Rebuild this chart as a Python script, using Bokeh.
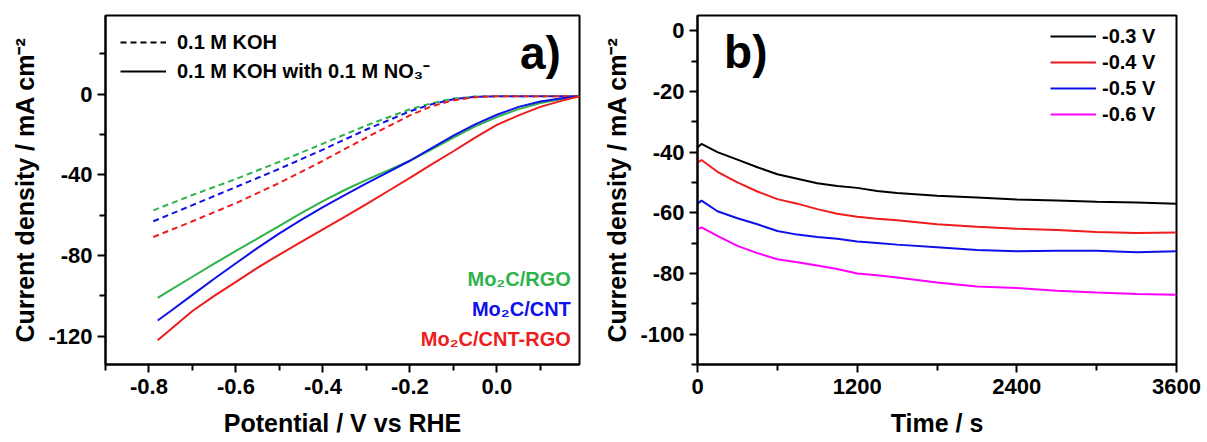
from bokeh.plotting import figure
from bokeh.models import Range1d, FixedTicker, PrintfTickFormatter, Legend, LegendItem, Label
from bokeh.layouts import row
from bokeh.embed import file_html
from bokeh.resources import INLINE

FONT = "Liberation Sans"
NAN = float("nan")

# ---------------- Panel a data (LSV) ----------------
potential_koh = [-0.79, -0.7, -0.6, -0.5, -0.4, -0.3, -0.2, -0.15, -0.1, -0.05, 0.0, 0.1, 0.19]
koh_rgo = [-57.6, -50.0, -42.0, -33.5, -24.5, -15.5, -7.5, -4.5, -2.2, -1.2, -1.0, -1.0, -1.0]
koh_cnt = [-63.0, -55.0, -46.0, -37.0, -27.5, -17.5, -8.5, -5.0, -2.5, -1.3, -1.0, -1.0, -1.0]
koh_cnt_rgo = [-70.8, -63.0, -54.0, -44.0, -33.0, -21.5, -10.5, -6.0, -3.0, -1.5, -1.0, -1.0, -1.0]

potential_no3 = [-0.78, -0.75, -0.7, -0.65, -0.6, -0.55, -0.5, -0.45, -0.4, -0.35, -0.3,
                 -0.25, -0.2, -0.15, -0.1, -0.05, 0.0, 0.05, 0.1, 0.15, 0.19]
no3_rgo = [-101.0, -97.0, -90.5, -84.0, -77.7, -71.5, -65.3, -59.0, -53.0, -47.5, -42.5,
           -37.8, -33.0, -27.3, -21.5, -16.0, -11.4, -7.4, -4.4, -2.4, -1.0]
no3_cnt = [-112.2, -107.5, -99.5, -91.5, -83.8, -76.2, -69.0, -62.3, -56.0, -50.0, -44.2,
           -38.6, -33.0, -26.7, -20.6, -15.0, -10.2, -6.3, -3.6, -2.0, -1.0]
no3_cnt_rgo = [-122.0, -116.5, -107.5, -100.0, -93.0, -86.0, -79.5, -73.2, -67.0, -60.8, -54.5,
               -48.0, -41.5, -34.8, -28.3, -21.5, -15.2, -10.5, -6.3, -3.2, -1.0]

catalysts = ["Mo\u2082C/RGO", "Mo\u2082C/CNT", "Mo\u2082C/CNT-RGO"]
electrolytes = ["0.1 M KOH", "0.1 M KOH with 0.1 M NO\u2083\u207b"]

# ---------------- Panel b data (chronoamperometry) ----------------
time_s = [0, 30, 150, 300, 450, 600, 750, 900, 1050, 1200, 1350, 1500, 1800, 2100, 2400,
          2700, 3000, 3300, 3600]
j_03 = [-38.5, -37.3, -40.0, -42.5, -45.0, -47.3, -48.8, -50.3, -51.2, -51.8, -52.8, -53.5,
        -54.4, -55.0, -55.6, -56.0, -56.4, -56.6, -57.0]
j_04 = [-43.5, -42.6, -46.5, -50.0, -53.0, -55.5, -57.0, -58.8, -60.3, -61.3, -62.0, -62.5,
        -63.8, -64.6, -65.3, -65.7, -66.3, -66.7, -66.5]
j_05 = [-57.0, -56.0, -59.5, -61.8, -63.8, -66.0, -67.2, -68.0, -68.6, -69.5, -70.0, -70.5,
        -71.4, -72.3, -72.7, -72.5, -72.5, -73.0, -72.7]
j_06 = [-65.5, -64.8, -67.6, -70.9, -73.3, -75.3, -76.3, -77.4, -78.5, -80.0, -80.6, -81.3,
        -83.0, -84.3, -84.8, -85.7, -86.3, -86.8, -87.0]
potentials = ["-0.3 V", "-0.4 V", "-0.5 V", "-0.6 V"]

GREEN = "#2eb34a"
BLUE = "#1010e8"
RED = "#ee1c1c"
MAGENTA = "#ff00ff"


def style(p):
    p.xgrid.visible = False
    p.ygrid.visible = False
    p.outline_line_color = "black"
    p.outline_line_width = 2
    p.background_fill_color = "white"
    p.border_fill_color = "white"
    for ax in (p.xaxis[0], p.yaxis[0]):
        ax.axis_line_width = 2
        ax.major_tick_line_width = 2
        ax.minor_tick_line_width = 2
        ax.major_tick_in = 0
        ax.major_tick_out = 8
        ax.minor_tick_in = 0
        ax.minor_tick_out = 6
        ax.major_label_text_font = FONT
        ax.major_label_text_font_style = "bold"
        ax.major_label_text_font_size = "22px"
        ax.major_label_text_color = "black"
        ax.axis_label_text_font = FONT
        ax.axis_label_text_font_style = "bold"
        ax.axis_label_text_font_size = "25px"
        ax.axis_label_text_color = "black"
    p.xaxis.major_label_standoff = 6
    p.xaxis.axis_label_standoff = 12
    p.yaxis.major_label_standoff = 5
    p.yaxis.axis_label_standoff = 6
    p.yaxis.formatter = PrintfTickFormatter(format="%d")


def legend(items, **kw):
    return Legend(items=items, margin=0, border_line_alpha=0, background_fill_alpha=0,
                  label_text_font=FONT, label_text_font_style="bold",
                  label_text_font_size="20px", label_text_color="black", **kw)


# ---------------- Panel a ----------------
pa = figure(width=592, height=442, output_backend="svg", toolbar_location=None,
            x_range=Range1d(-0.9, 0.19), y_range=Range1d(-134, 39),
            min_border_left=105, min_border_right=13, min_border_top=15, min_border_bottom=78)
style(pa)
pa.xaxis.axis_label = "Potential / V vs RHE"
pa.yaxis.axis_label = "Current density / mA cm\u207b\u00b2"
pa.xaxis.ticker = FixedTicker(ticks=[-0.8, -0.6, -0.4, -0.2, 0.0],
                              minor_ticks=[-0.9, -0.7, -0.5, -0.3, -0.1, 0.1])
pa.xaxis.formatter = PrintfTickFormatter(format="%.1f")
pa.yaxis.ticker = FixedTicker(ticks=[-120, -80, -40, 0], minor_ticks=[-100, -60, -20, 20])

DASH = "6 4"
pa.line(potential_koh, koh_rgo, line_color=GREEN, line_width=2, line_dash=DASH)
pa.line(potential_koh, koh_cnt, line_color=BLUE, line_width=2, line_dash=DASH)
pa.line(potential_koh, koh_cnt_rgo, line_color=RED, line_width=2, line_dash=DASH)
pa.line(potential_no3, no3_rgo, line_color=GREEN, line_width=2)
pa.line(potential_no3, no3_cnt, line_color=BLUE, line_width=2)
pa.line(potential_no3, no3_cnt_rgo, line_color=RED, line_width=2)

key_dash = pa.line([NAN], [NAN], line_color="black", line_width=2, line_dash=DASH)
key_solid = pa.line([NAN], [NAN], line_color="black", line_width=2)
pa.add_layout(legend([LegendItem(label=electrolytes[0], renderers=[key_dash]),
                      LegendItem(label=electrolytes[1], renderers=[key_solid])],
                     location="top_left", padding=15, spacing=3,
                     glyph_width=46, glyph_height=24, label_height=24, label_standoff=11))

pa.add_layout(Label(x=0.147, y=20.4, text="a)", text_align="right", text_baseline="middle",
                    text_font=FONT, text_font_style="bold", text_font_size="46px",
                    text_color="black"))
for name, yy, col in zip(catalysts, [-91.4, -106.7, -121.6], [GREEN, BLUE, RED]):
    pa.add_layout(Label(x=0.17, y=yy, text=name, text_align="right", text_baseline="middle",
                        text_font=FONT, text_font_style="bold", text_font_size="20px",
                        text_color=col))

# ---------------- Panel b ----------------
pb = figure(width=615, height=442, output_backend="svg", toolbar_location=None,
            x_range=Range1d(0, 3600), y_range=Range1d(-110, 5),
            min_border_left=105, min_border_right=31, min_border_top=14, min_border_bottom=78)
style(pb)
pb.xaxis.axis_label = "Time / s"
pb.yaxis.axis_label = "Current density / mA cm\u207b\u00b2"
pb.xaxis.ticker = FixedTicker(ticks=[0, 1200, 2400, 3600], minor_ticks=[600, 1800, 3000])
pb.yaxis.ticker = FixedTicker(ticks=[-100, -80, -60, -40, -20, 0],
                              minor_ticks=[-110, -90, -70, -50, -30, -10])

rb = []
for ys, col in zip([j_03, j_04, j_05, j_06], ["black", RED, BLUE, MAGENTA]):
    rb.append(pb.line(time_s, ys, line_color=col, line_width=2))
pb.add_layout(legend([LegendItem(label=lab, renderers=[r]) for lab, r in zip(potentials, rb)],
                     location="top_right", padding=8, spacing=0,
                     glyph_width=46, glyph_height=26, label_height=26, label_width=66,
                     label_standoff=6))
pb.add_layout(Label(x=200, y=-7, text="b)", text_align="left", text_baseline="middle",
                    text_font=FONT, text_font_style="bold", text_font_size="46px",
                    text_color="black"))

layout = row(pa, pb, spacing=0)
open("out.html", "w").write(file_html(layout, INLINE))
